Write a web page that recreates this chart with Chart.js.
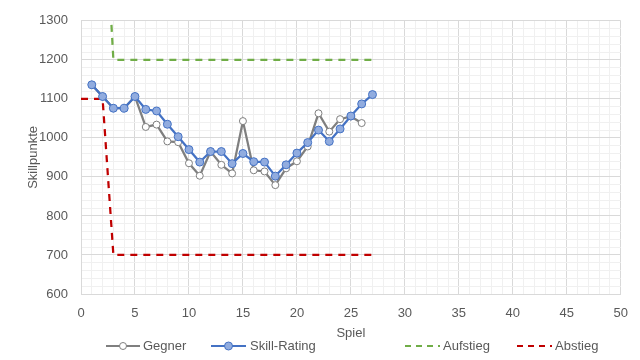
<!DOCTYPE html>
<html>
<head>
<meta charset="utf-8">
<script src="https://cdn.jsdelivr.net/npm/chart.js@4/dist/chart.umd.min.js"></script>
<style>
  html, body { margin: 0; padding: 0; background: #fff; }
  #wrap { width: 640px; height: 360px; }
</style>
</head>
<body>
<div id="wrap"><canvas id="c" width="640" height="360"></canvas></div>
<script>
// ---- data ----
const spiele = [1,2,3,4,5,6,7,8,9,10,11,12,13,14,15,16,17,18,19,20,21,22,23,24,25,26,27];
const gegner = [1136,1106,1076,1076,1106,1028,1034,991,989,935,903,965,931,909,1043,917,914,879,922,940,978,1063,1016,1048,1055,1038];
const skillRating = [1136,1106,1076,1076,1106,1073,1069,1035,1003,970,938,965,965,934,960,939,938,902,931,961,988,1020,991,1023,1056,1087,1111];
const aufstiegX = [0,2,3,27];
const aufstiegY = [1700,1700,1200,1200];
const abstiegX = [0,2,3,27];
const abstiegY = [1100,1100,700,700];
const xTicks = [0,5,10,15,20,25,30,35,40,45,50];
const yTicks = [600,700,800,900,1000,1100,1200,1300];

const toXY = (xs, ys) => ys.map((y, i) => ({x: xs[i], y: y}));

const FONT = "'Liberation Sans', Arial, sans-serif";
const TXT = '#595959';

const legendItems = [
  {label:'Gegner', color:'#7f7f7f', x0:106, x1:140, tx:143, dash:[], marker:{fill:'#ffffff', stroke:'#7f7f7f', r:3.5}},
  {label:'Skill-Rating', color:'#4472c4', x0:211, x1:246, tx:250, dash:[], marker:{fill:'#91acdf', stroke:'#4472c4', r:4}},
  {label:'Aufstieg', color:'#70ad47', x0:405, x1:440, tx:443, dash:[6,5]},
  {label:'Abstieg', color:'#c00000', x0:517, x1:552, tx:555, dash:[6,5]}
];

const customLegend = {
  id: 'customLegend',
  afterDraw(chart) {
    const ctx = chart.ctx;
    const y = 346;
    ctx.save();
    legendItems.forEach(it => {
      ctx.beginPath();
      ctx.setLineDash(it.dash);
      ctx.strokeStyle = it.color;
      ctx.lineWidth = 2;
      ctx.moveTo(it.x0, y);
      ctx.lineTo(it.x1, y);
      ctx.stroke();
      ctx.setLineDash([]);
      if (it.marker) {
        ctx.beginPath();
        ctx.arc((it.x0 + it.x1) / 2, y, it.marker.r, 0, Math.PI * 2);
        ctx.fillStyle = it.marker.fill;
        ctx.fill();
        ctx.lineWidth = 1;
        ctx.strokeStyle = it.marker.stroke;
        ctx.stroke();
      }
      ctx.fillStyle = TXT;
      ctx.font = '13px ' + FONT;
      ctx.textBaseline = 'middle';
      ctx.textAlign = 'left';
      ctx.fillText(it.label, it.tx, y);
    });
    ctx.restore();
  }
};

new Chart(document.getElementById('c'), {
  type: 'line',
  data: {
    datasets: [
      {
        label: 'Skill-Rating',
        data: toXY(spiele, skillRating),
        borderColor: '#4472c4',
        borderWidth: 2.25,
        pointRadius: 4,
        pointBorderWidth: 1,
        pointBackgroundColor: '#91acdf',
        pointBorderColor: '#4472c4',
        tension: 0,
        order: 0
      },
      {
        label: 'Gegner',
        data: toXY(spiele, gegner),
        borderColor: '#7f7f7f',
        borderWidth: 2.25,
        pointRadius: 3.5,
        pointBorderWidth: 1,
        pointBackgroundColor: '#ffffff',
        pointBorderColor: '#7f7f7f',
        tension: 0,
        order: 1
      },
      {
        label: 'Aufstieg',
        data: toXY(aufstiegX, aufstiegY),
        borderColor: '#70ad47',
        borderWidth: 2.25,
        borderDash: [7, 6],
        pointRadius: 0,
        tension: 0,
        order: 2
      },
      {
        label: 'Abstieg',
        data: toXY(abstiegX, abstiegY),
        borderColor: '#c00000',
        borderWidth: 2.25,
        borderDash: [7, 6],
        pointRadius: 0,
        tension: 0,
        order: 3
      }
    ]
  },
  options: {
    responsive: false,
    animation: false,
    devicePixelRatio: 1,
    layout: { padding: { left: 0, right: 19, top: 15, bottom: 0 } },
    plugins: { legend: { display: false }, tooltip: { enabled: false } },
    scales: {
      x: {
        type: 'linear',
        min: 0, max: 50,
        afterFit(s) { s.height = 66; },
        afterBuildTicks(s) {
          const t = [];
          for (let v = 0; v <= 50; v++) t.push({value: v});
          s.ticks = t;
        },
        ticks: {
          autoSkip: false,
          maxRotation: 0,
          padding: 12,
          color: TXT,
          font: { family: FONT, size: 13 },
          callback: v => xTicks.includes(v) ? String(v) : ''
        },
        grid: {
          drawTicks: false,
          lineWidth: 1,
          color: c => (c.tick && xTicks.includes(c.tick.value)) ? '#d9d9d9' : '#f0f0f0'
        },
        border: { display: true, color: '#d9d9d9' },
        title: {
          display: true, text: 'Spiel', color: TXT,
          font: { family: FONT, size: 13 },
          padding: { top: 0, bottom: 19 }
        }
      },
      y: {
        type: 'linear',
        min: 600, max: 1300,
        afterFit(s) { s.width = 81; },
        afterBuildTicks(s) {
          const t = [];
          for (let v = 600; v <= 1300; v += 20) t.push({value: v});
          s.ticks = t;
        },
        ticks: {
          autoSkip: false,
          padding: 13,
          color: TXT,
          font: { family: FONT, size: 13 },
          callback: v => yTicks.includes(v) ? String(v) : ''
        },
        grid: {
          drawTicks: false,
          lineWidth: 1,
          color: c => (c.tick && yTicks.includes(c.tick.value)) ? '#d9d9d9' : '#f0f0f0'
        },
        border: { display: true, color: '#d9d9d9' },
        title: {
          display: true, text: 'Skillpunkte', color: TXT,
          font: { family: FONT, size: 13 },
          padding: { top: 26, bottom: 0 }
        }
      }
    }
  },
  plugins: [customLegend]
});
</script>
</body>
</html>
